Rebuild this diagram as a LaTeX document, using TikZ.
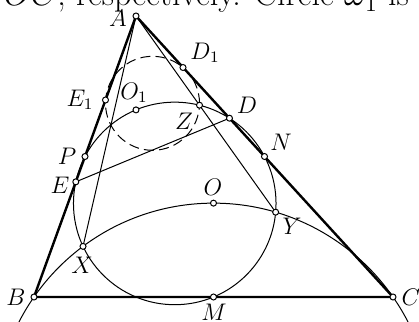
\documentclass[tikz,border=0pt]{standalone}
\usepackage{tikz}
\usetikzlibrary{calc}
\tikzset{
  side/.style={line width=1.2pt, draw=black, line join=round},
  aux/.style={line width=0.5pt, draw=black},
  dashcirc/.style={line width=0.5pt, draw=black, dash pattern=on 5pt off 2.6pt},
  vertex/.style={line width=0.5pt, draw=black, fill=white},
  lbl/.style={font=\large, inner sep=1pt}
}

\begin{document}
\begin{tikzpicture}[x=0.5pt,y=0.5pt]
  \useasboundingbox (0,0) rectangle (419,322);
  \clip (0,0) rectangle (419,322);

  \coordinate (A) at (136,306);
  \coordinate (B) at (34,25);
  \coordinate (C) at (393,25);
  \coordinate (M) at ($(B)!0.5!(C)$);
  \coordinate (P) at ($(A)!0.5!(B)$);
  \coordinate (N) at ($(A)!0.5!(C)$);
  \coordinate (D) at ($(A)!(B)!(C)$);
  \coordinate (E) at ($(A)!(C)!(B)$);
  \coordinate (O) at (213.5,118.86);
  \coordinate (X) at (83.03,75.63);
  \coordinate (Y) at (275.65,109.83);
  \coordinate (Z) at (199.5,216.8);
  \coordinate (O1) at (136,212.1);
  \coordinate (E1) at (105.5,222);
  \coordinate (D1) at (183,254.5);
  % centres of the circles
  \coordinate (K9) at (174.75,118.57);
  \coordinate (Kb) at (213.5,-99.71);
  \coordinate (Kd) at (152.5,218.7);

  \draw[aux] (K9) circle [radius=101.28];
  \draw[aux] (Kb) circle [radius=218.57];
  \draw[dashcirc] (Kd) circle [radius=47];

  \draw[aux] (A) -- (X);
  \draw[aux] (A) -- (Y);
  \draw[aux] (E) -- (D);
  \draw[side] (A) -- (B) -- (C) -- cycle;

  \foreach \p in {A,B,C,M,O,X,Y,E,P,E1,O1,Z,D1,D,N}
    \draw[vertex] (\p) circle [radius=1.5pt];

  \node[lbl] (lA) at (118,304) {$A$};
  \node[lbl] (lB) at (16,25) {$B$};
  \node[lbl] (lC) at (411,25) {$C$};
  \node[lbl] (lM) at (214,10) {$M$};
  \node[lbl] (lO) at (213,135) {$O$};
  \node[lbl] (lX) at (82,57) {$X$};
  \node[lbl] (lY) at (292,96) {$Y$};
  \node[lbl] (lE) at (60,137) {$E$};
  \node[lbl] (lP) at (67,166) {$P$};
  \node[lbl] (lE1) at (80,222) {$E_1$};
  \node[lbl] (lO1) at (134,229) {$O_1$};
  \node[lbl] (lZ) at (184,201) {$Z$};
  \node[lbl] (lD1) at (205,269) {$D_1$};
  \node[lbl] (lD) at (247,217) {$D$};
  \node[lbl] (lN) at (281,180) {$N$};

  % cut-off line of the text above
  \node[anchor=base west, inner sep=0pt, font=\fontsize{17}{20}\selectfont] (head) at (-24,316)
    {$BOC$, respectively. Circle $\omega_1$ is};
\end{tikzpicture}
\end{document}
